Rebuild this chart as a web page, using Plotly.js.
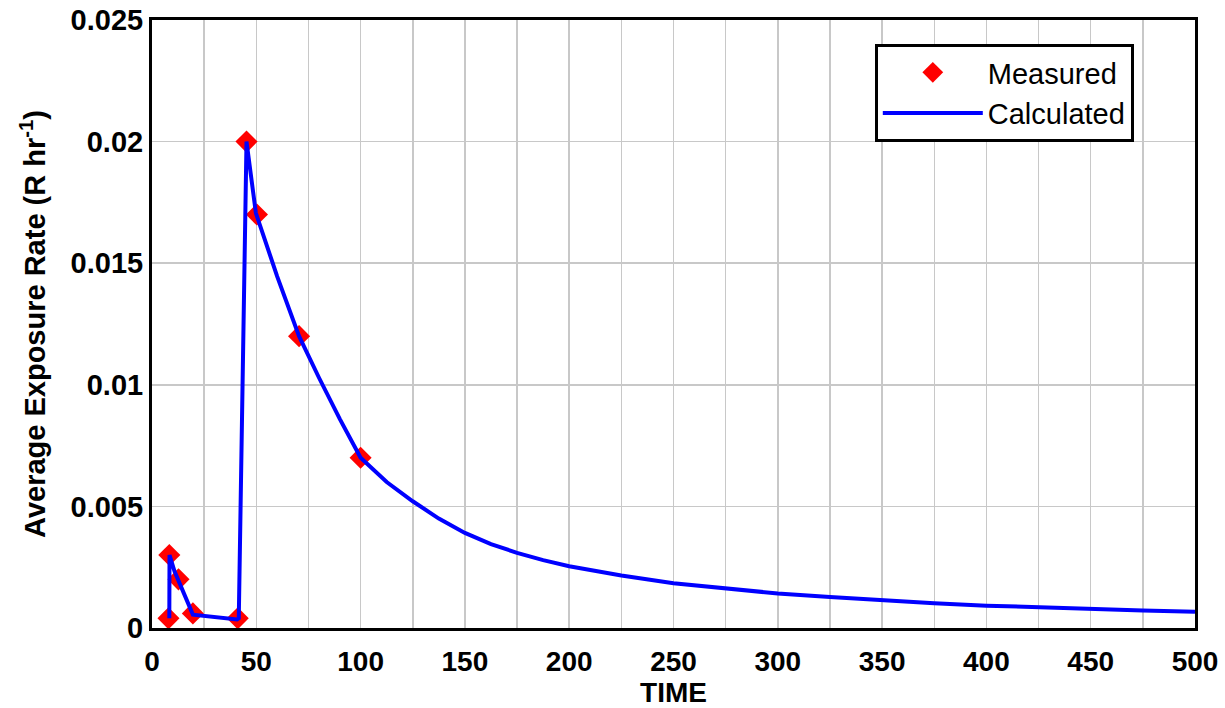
<!DOCTYPE html>
<html>
<head>
<meta charset="utf-8">
<script src="https://cdn.plot.ly/plotly-3.0.1.min.js"></script>
<style>html,body{margin:0;padding:0;background:#fff;}#chart{width:1225px;height:708px;}</style>
</head>
<body>
<div id="chart"></div>
<script>
// Measured data points
const measuredTime = [7.9, 8.3, 12.7, 19.6, 41.1, 45.3, 50.3, 70.5, 100];
const measuredRate = [0.0004, 0.003, 0.002, 0.0006, 0.0004, 0.02, 0.017, 0.012, 0.007];

// Calculated curve
const calcTime = [8.3, 8.4, 10.8, 19.6, 40.8, 41.6, 45.3, 49.8, 60, 70.5, 80, 90, 100, 112.5, 125, 137.5, 150, 162.5, 175, 187.5, 200, 225, 250, 275, 300, 325, 350, 375, 400, 425, 450, 475, 500];
const calcRate = [0.0004, 0.003, 0.00233, 0.00055, 0.00035, 0.0004, 0.02, 0.01706, 0.01446, 0.012, 0.0103, 0.0086, 0.007, 0.0060, 0.00521, 0.0045, 0.00391, 0.00345, 0.00309, 0.00279, 0.00254, 0.00216, 0.00184, 0.00161, 0.00142, 0.00127, 0.00113, 0.00102, 0.00092, 0.00084, 0.00077, 0.00072, 0.00067];

const xTickVals = [0, 50, 100, 150, 200, 250, 300, 350, 400, 450, 500];
const yTickVals = [0, 0.005, 0.01, 0.015, 0.02, 0.025];
const yTickText = ['0', '0.005', '0.01', '0.015', '0.02', '0.025'];

const FONT = 'Liberation Sans, Arial, sans-serif';

const traces = [
  {
    x: measuredTime, y: measuredRate, name: 'Measured', type: 'scatter', mode: 'markers',
    marker: {symbol: 'diamond', size: 17, color: '#ff0000'}
  },
  {
    x: calcTime, y: calcRate, name: 'Calculated', type: 'scatter', mode: 'lines',
    line: {color: '#0000ff', width: 4}
  }
];

const layout = {
  width: 1225, height: 708,
  margin: {l: 152, r: 30, t: 20, b: 80},
  paper_bgcolor: '#fff', plot_bgcolor: '#fff',
  font: {family: FONT, color: '#000'},
  showlegend: true,
  legend: {
    x: 0.693, y: 0.9605, xanchor: 'left', yanchor: 'top',
    bgcolor: '#fff', bordercolor: '#000', borderwidth: 3,
    font: {family: FONT, size: 29, color: '#000'},
    itemwidth: 100,
    traceorder: 'normal', tracegroupgap: 0
  },
  xaxis: {
    range: [0, 500], tickmode: 'array', tickvals: xTickVals, ticktext: xTickVals.map(String),
    showgrid: true, gridcolor: '#c8c8c8', gridwidth: 1.5,
    minor: {dtick: 25, showgrid: true, gridcolor: '#c8c8c8', gridwidth: 1.5},
    showline: true, linecolor: '#000', linewidth: 3, mirror: true,
    ticks: '', zeroline: false, ticklabelstandoff: 6,
    tickfont: {family: FONT, size: 28, color: '#000', weight: 'bold'},
    title: {text: '<b>TIME</b>', font: {family: FONT, size: 28, color: '#000'}, standoff: 1}
  },
  yaxis: {
    range: [0, 0.025], tickmode: 'array', tickvals: yTickVals, ticktext: yTickText,
    showgrid: true, gridcolor: '#c8c8c8', gridwidth: 1.5,
    showline: true, linecolor: '#000', linewidth: 3, mirror: true,
    ticks: '', zeroline: false,
    tickfont: {family: FONT, size: 29, color: '#000', weight: 'bold'},
    title: {text: '<b>Average Exposure Rate (R hr<sup>-1</sup>)</b>', font: {family: FONT, size: 29, color: '#000'}, standoff: 17}
  }
};

Plotly.newPlot('chart', traces, layout, {displayModeBar: false, staticPlot: true});
</script>
</body>
</html>
